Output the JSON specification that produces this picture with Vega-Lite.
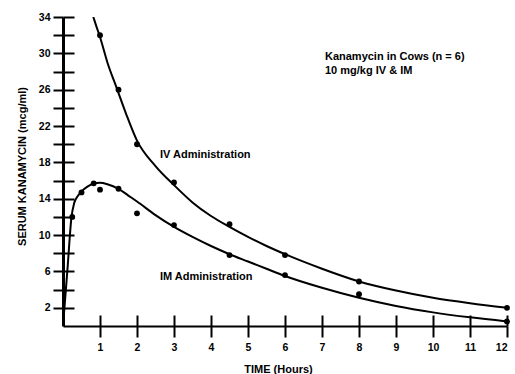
{
  "$schema": "https://vega.github.io/schema/vega-lite/v6.json",
  "width": 444,
  "height": 309,
  "autosize": "none",
  "padding": {"left": 63, "top": 17, "right": 8, "bottom": 48},
  "background": "white",
  "config": {"view": {"stroke": null}, "font": "Liberation Sans"},
  "datasets": {
    "curves": [
      {"series": "IV", "t": 0.82, "c": 34},
      {"series": "IV", "t": 0.9, "c": 33.0},
      {"series": "IV", "t": 1.0, "c": 31.8},
      {"series": "IV", "t": 1.2, "c": 29.0},
      {"series": "IV", "t": 1.45, "c": 26.2},
      {"series": "IV", "t": 1.7, "c": 23.4},
      {"series": "IV", "t": 2.0, "c": 20.4},
      {"series": "IV", "t": 2.5, "c": 17.6},
      {"series": "IV", "t": 3.0, "c": 15.5},
      {"series": "IV", "t": 3.5, "c": 13.6},
      {"series": "IV", "t": 4.0, "c": 12.1},
      {"series": "IV", "t": 4.5, "c": 10.9},
      {"series": "IV", "t": 5.0, "c": 9.8},
      {"series": "IV", "t": 5.5, "c": 8.8},
      {"series": "IV", "t": 6.0, "c": 7.9},
      {"series": "IV", "t": 7.0, "c": 6.3},
      {"series": "IV", "t": 8.0, "c": 4.9},
      {"series": "IV", "t": 9.0, "c": 3.9},
      {"series": "IV", "t": 10.0, "c": 3.1},
      {"series": "IV", "t": 11.0, "c": 2.5},
      {"series": "IV", "t": 12.0, "c": 2.0},
      {"series": "IM", "t": 0.0, "c": 0.0},
      {"series": "IM", "t": 0.12, "c": 6.2},
      {"series": "IM", "t": 0.23, "c": 12.0},
      {"series": "IM", "t": 0.3, "c": 13.5},
      {"series": "IM", "t": 0.4, "c": 14.3},
      {"series": "IM", "t": 0.5, "c": 14.8},
      {"series": "IM", "t": 0.65, "c": 15.3},
      {"series": "IM", "t": 0.82, "c": 15.65},
      {"series": "IM", "t": 1.0, "c": 15.75},
      {"series": "IM", "t": 1.2, "c": 15.6},
      {"series": "IM", "t": 1.5, "c": 15.1},
      {"series": "IM", "t": 1.75, "c": 14.4},
      {"series": "IM", "t": 2.0, "c": 13.7},
      {"series": "IM", "t": 2.5, "c": 12.2},
      {"series": "IM", "t": 3.0, "c": 10.9},
      {"series": "IM", "t": 3.5, "c": 9.8},
      {"series": "IM", "t": 4.0, "c": 8.8},
      {"series": "IM", "t": 4.5, "c": 7.9},
      {"series": "IM", "t": 5.0, "c": 7.1},
      {"series": "IM", "t": 5.5, "c": 6.3},
      {"series": "IM", "t": 6.0, "c": 5.5},
      {"series": "IM", "t": 7.0, "c": 4.2},
      {"series": "IM", "t": 8.0, "c": 3.1},
      {"series": "IM", "t": 9.0, "c": 2.2},
      {"series": "IM", "t": 10.0, "c": 1.5},
      {"series": "IM", "t": 11.0, "c": 0.95},
      {"series": "IM", "t": 12.0, "c": 0.5}
    ],
    "points": [
      {"series": "IV", "t": 1.0, "c": 32.0},
      {"series": "IV", "t": 1.5, "c": 26.0},
      {"series": "IV", "t": 2.0, "c": 20.0},
      {"series": "IV", "t": 3.0, "c": 15.8},
      {"series": "IV", "t": 4.5, "c": 11.2},
      {"series": "IV", "t": 6.0, "c": 7.8},
      {"series": "IV", "t": 8.0, "c": 4.9},
      {"series": "IV", "t": 12.0, "c": 2.0},
      {"series": "IM", "t": 0.25, "c": 12.0},
      {"series": "IM", "t": 0.5, "c": 14.7},
      {"series": "IM", "t": 0.83, "c": 15.7},
      {"series": "IM", "t": 1.0, "c": 15.0},
      {"series": "IM", "t": 1.5, "c": 15.1},
      {"series": "IM", "t": 2.0, "c": 12.4},
      {"series": "IM", "t": 3.0, "c": 11.1},
      {"series": "IM", "t": 4.5, "c": 7.8},
      {"series": "IM", "t": 6.0, "c": 5.6},
      {"series": "IM", "t": 8.0, "c": 3.5},
      {"series": "IM", "t": 12.0, "c": 0.5}
    ],
    "notes": [
      {"t": 7.08, "c": 29.65, "label": "Kanamycin in Cows (n = 6)"},
      {"t": 7.08, "c": 28.1, "label": "10 mg/kg IV & IM"},
      {"t": 2.62, "c": 18.87, "label": "IV Administration"},
      {"t": 2.62, "c": 5.37, "label": "IM Administration"}
    ]
  },
  "resolve": {"axis": {"x": "independent", "y": "independent"}},
  "layer": [
    {
      "data": {"name": "curves"},
      "mark": {"type": "line", "interpolate": "monotone", "stroke": "black", "strokeWidth": 2, "clip": true},
      "encoding": {
        "x": {
          "field": "t", "type": "quantitative",
          "scale": {"domain": [0, 12], "nice": false, "zero": false},
          "axis": {
            "orient": "bottom", "values": [1,2,3,4,5,6,7,8,9,10,11,12],
            "grid": false, "domainColor": "black", "domainWidth": 2,
            "tickColor": "black", "tickWidth": 2, "tickSize": 11,
            "labelFont": "Liberation Sans", "labelFontWeight": "bold", "labelFontSize": 10.5,
            "labelColor": "black", "labelPadding": 5,
            "title": "TIME (Hours)", "titleFont": "Liberation Sans", "titleFontWeight": "bold",
            "titleFontSize": 11, "titleColor": "black",
            "titleX": 215, "titleY": 43, "titleBaseline": "middle", "titleAnchor": null
          }
        },
        "y": {
          "field": "c", "type": "quantitative",
          "scale": {"domain": [0, 34], "nice": false, "zero": true},
          "axis": {
            "orient": "left", "values": [2,4,6,8,10,12,14,16,18,20,22,24,26,28,30,32,34],
            "labelExpr": "(datum.value + 2) % 4 == 0 ? datum.label : ''",
            "grid": false, "domainColor": "black", "domainWidth": 3,
            "tickColor": "black", "tickWidth": 2, "tickSize": 10,
            "labelFont": "Liberation Sans", "labelFontWeight": "bold", "labelFontSize": 10.5,
            "labelColor": "black", "labelPadding": 3,
            "title": "SERUM KANAMYCIN (mcg/ml)", "titleFont": "Liberation Sans", "titleFontWeight": "bold",
            "titleFontSize": 11, "titleColor": "black",
            "titleX": -41, "titleY": 149, "titleBaseline": "middle"
          }
        },
        "detail": {"field": "series"}
      }
    },
    {
      "data": {"name": "curves"},
      "mark": {"type": "line", "opacity": 0},
      "encoding": {
        "x": {
          "field": "t", "type": "quantitative",
          "scale": {"domain": [0, 12], "nice": false, "zero": false},
          "axis": {
            "orient": "bottom", "offset": -11, "values": [1,2,3,4,5,6,7,8,9,10,11,12],
            "grid": false, "domain": false, "labels": false, "title": null,
            "tickColor": "black", "tickWidth": 2, "tickSize": 11
          }
        },
        "y": {
          "field": "c", "type": "quantitative",
          "scale": {"domain": [0, 34], "nice": false, "zero": true},
          "axis": {
            "orient": "left", "offset": -11, "values": [2,4,6,8,10,12,14,16,18,20,22,24,26,28,30,32,34],
            "grid": false, "domain": false, "labels": false, "title": null,
            "tickColor": "black", "tickWidth": 2, "tickSize": 11
          }
        },
        "detail": {"field": "series"}
      }
    },
    {
      "data": {"name": "points"},
      "mark": {"type": "point", "filled": true, "color": "black", "opacity": 1, "size": 34},
      "encoding": {
        "x": {"field": "t", "type": "quantitative", "scale": {"domain": [0, 12], "nice": false, "zero": false}, "axis": null},
        "y": {"field": "c", "type": "quantitative", "scale": {"domain": [0, 34], "nice": false, "zero": true}, "axis": null}
      }
    },
    {
      "data": {"name": "notes"},
      "mark": {"type": "text", "align": "left", "baseline": "middle", "font": "Liberation Sans", "fontWeight": "bold", "fontSize": 11, "color": "black"},
      "encoding": {
        "x": {"field": "t", "type": "quantitative", "scale": {"domain": [0, 12], "nice": false, "zero": false}, "axis": null},
        "y": {"field": "c", "type": "quantitative", "scale": {"domain": [0, 34], "nice": false, "zero": true}, "axis": null},
        "text": {"field": "label"}
      }
    }
  ]
}
